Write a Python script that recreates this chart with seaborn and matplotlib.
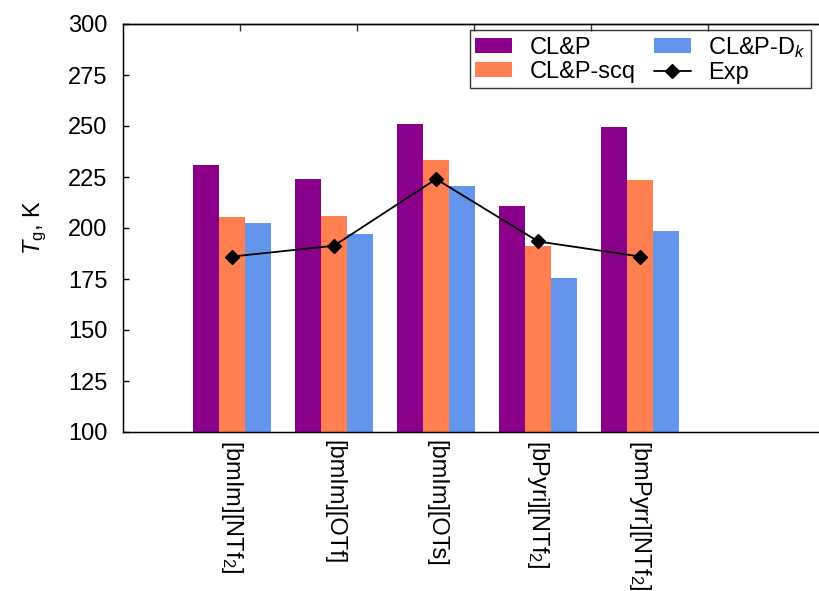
import matplotlib
matplotlib.use("Agg")
import matplotlib.pyplot as plt
import seaborn as sns
import pandas as pd
import numpy as np

categories = ["[bmIm][NTf$_2$]", "[bmIm][OTf]", "[bmIm][OTs]", "[bPyri][NTf$_2$]", "[bmPyrr][NTf$_2$]"]
series_names = ["CL&P", "CL&P-scq", "CL&P-D$_k$"]
clp = [231, 224, 251, 211, 249.5]
clp_scq = [205.5, 206, 233.5, 191, 223.5]
clp_dk = [202.5, 197, 220.5, 175.5, 198.5]
exp = [186, 191.3, 224, 193.4, 186]
colors = ["#8B008B", "#FF7F50", "#6495ED"]
yticks = [100, 125, 150, 175, 200, 225, 250, 275, 300]

FS = 17

sns.set_style("ticks")
plt.rcParams["font.family"] = ["Liberation Sans", "DejaVu Sans"]
plt.rcParams["mathtext.fontset"] = "custom"
plt.rcParams["mathtext.rm"] = "Liberation Sans"
plt.rcParams["mathtext.it"] = "Liberation Sans:italic"
plt.rcParams["mathtext.bf"] = "Liberation Sans:bold"
for k in ["text.color", "axes.labelcolor", "xtick.color", "ytick.color", "axes.edgecolor"]:
    plt.rcParams[k] = "black"

rows = []
for name, vals in zip(series_names, [clp, clp_scq, clp_dk]):
    for c, v in zip(categories, vals):
        rows.append({"cat": c, "model": name, "Tg": v})
df = pd.DataFrame(rows)
dexp = pd.DataFrame({"cat": categories, "Tg": exp})

fig = plt.figure(figsize=(8.19, 5.91), dpi=100)
ax = fig.add_axes([123/819, 1-432/591, 1-123/819, (432-24)/591])

sns.barplot(data=df, x="cat", y="Tg", hue="model", order=categories,
            hue_order=series_names, palette=colors, saturation=1,
            width=0.765, linewidth=0, ax=ax)
sns.pointplot(data=dexp, x="cat", y="Tg", order=categories, color="black",
              markers="D", markersize=7, linewidth=1.3, label="Exp", ax=ax)

ax.set_ylim(100, 300)
ax.set_yticks(yticks)
ax.set_xlim(-1.066, 5.75)
ax.set_xlabel("")
ax.set_ylabel("$T_{\\mathrm{g}}$, K", fontsize=FS, labelpad=14)
ax.tick_params(axis="y", direction="in", length=4, width=1, labelsize=FS, pad=11,
               colors="black")
ax.tick_params(axis="x", length=0, labelsize=FS, pad=6, colors="black")
for lab in ax.get_xticklabels():
    lab.set_rotation(-90)
    lab.set_va("top")
    lab.set_ha("center")

for s in ["left", "bottom", "top"]:
    ax.spines[s].set_linewidth(1.0)
    ax.spines[s].set_color("black")
ax.spines["right"].set_visible(False)

ax2 = ax.twiny()
ax2.set_xlim(0, 696/117)
ax2.set_xticks([1, 2, 3, 4, 5])
ax2.set_xticklabels([])
ax2.tick_params(axis="x", which="major", direction="in", length=5, width=1,
                top=True, bottom=False, labeltop=False, color="#333333")
ax2.spines["right"].set_visible(False)
ax2.spines["top"].set_linewidth(1.0)

handles, labels = ax.get_legend_handles_labels()
if ax.get_legend() is not None:
    ax.get_legend().remove()
leg = ax.legend(handles, labels, ncol=2, loc="upper right",
                bbox_to_anchor=(811/819, 1-30/591), bbox_transform=fig.transFigure,
                borderaxespad=0, fontsize=FS, frameon=True, fancybox=False,
                edgecolor="black", handlelength=1.55, handleheight=0.6,
                handletextpad=0.75, columnspacing=0.8, labelspacing=0.08,
                borderpad=0.2)
leg.get_frame().set_linewidth(1.0)
leg.set_zorder(10)

fig.savefig("out.png", dpi=100)
